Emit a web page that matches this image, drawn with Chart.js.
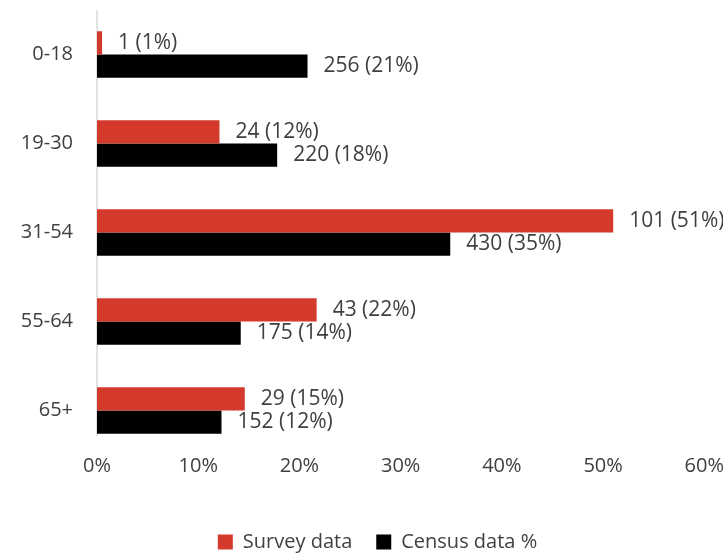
<!DOCTYPE html>
<html>
<head>
<meta charset="utf-8">
<script src="https://cdn.jsdelivr.net/npm/chart.js@4/dist/chart.umd.min.js"></script>
<style>
  html, body { margin:0; padding:0; background:#fff; overflow:hidden; }
  #wrap { width:723px; height:553px; position:relative; }
</style>
</head>
<body>
<div id="wrap"><canvas id="ageChart"></canvas></div>
<script>
// age groups, survey vs census
const categories = ['0-18', '19-30', '31-54', '55-64', '65+'];
const surveyPct = [0.5, 12.1, 51.0, 21.7, 14.6];
const censusPct = [20.8, 17.8, 34.9, 14.2, 12.3];
const surveyLabels = ['1 (1%)', '24 (12%)', '101 (51%)', '43 (22%)', '29 (15%)'];
const censusLabels = ['256 (21%)', '220 (18%)', '430 (35%)', '175 (14%)', '152 (12%)'];
const xMax = 60, xStep = 10;

const textColor = '#404040';
const fontFamily = '"Open Sans", sans-serif';

// bar end labels
const barLabels = {
  id:'barLabels',
  afterDatasetsDraw(chart){
    const ctx = chart.ctx;
    const all = [surveyLabels, censusLabels];
    ctx.save();
    ctx.font = '21px ' + fontFamily;
    ctx.fillStyle = textColor;
    ctx.textBaseline = 'middle';
    ctx.textAlign = 'left';
    chart.data.datasets.forEach((ds, i) => {
      chart.getDatasetMeta(i).data.forEach((bar, j) => {
        ctx.fillText(all[i][j], bar.x + 16, bar.y);
      });
    });
    ctx.restore();
  }
};

// vertical axis line (stops a bit short of the bottom, like the original)
const axisLine = {
  id:'axisLine',
  beforeDatasetsDraw(chart){
    const {ctx, chartArea} = chart;
    ctx.save();
    ctx.strokeStyle = '#d9d9d9';
    ctx.lineWidth = 1.5;
    ctx.beginPath();
    ctx.moveTo(chartArea.left, chartArea.top);
    ctx.lineTo(chartArea.left, chartArea.bottom - 19);
    ctx.stroke();
    ctx.restore();
  }
};

// legend sits a little right of centre in the original
const legendShift = {
  id:'legendShift',
  afterLayout(chart){
    if(!chart.legend) return;
    chart.legend.left += 18;
    chart.legend.right += 18;
  }
};

new Chart(document.getElementById('ageChart').getContext('2d'), {
  type:'bar',
  data:{
    labels: categories,
    datasets:[
      {label:'Survey data', data:surveyPct, backgroundColor:'#d33a2c'},
      {label:'Census data %', data:censusPct, backgroundColor:'#000000'}
    ]
  },
  options:{
    indexAxis:'y',
    responsive:true,
    maintainAspectRatio:false,
    animation:false,
    categoryPercentage:0.52,
    barPercentage:1,
    layout:{ padding:{ top:10, right:4, left:0, bottom:-9 } },
    scales:{
      x:{
        min:0, max:xMax,
        grid:{ display:false, drawTicks:false },
        border:{ display:false },
        ticks:{ stepSize:xStep, color:textColor, font:{ size:20, family:fontFamily }, padding:-1,
                callback: v => v + '%' },
        afterFit: s => { s.height += 31; }
      },
      y:{
        grid:{ display:false, drawTicks:false },
        border:{ display:false },
        ticks:{ color:textColor, font:{ size:20, family:fontFamily }, padding:24 },
        afterFit: s => { s.width = 97; s.paddingTop = 0; s.paddingBottom = 0; }
      }
    },
    plugins:{
      legend:{
        position:'bottom',
        labels:{ color:textColor, font:{ size:20, family:fontFamily }, boxWidth:15, boxHeight:15, padding:24 }
      },
      tooltip:{ enabled:false }
    }
  },
  plugins:[axisLine, barLabels, legendShift]
});
</script>
</body>
</html>
